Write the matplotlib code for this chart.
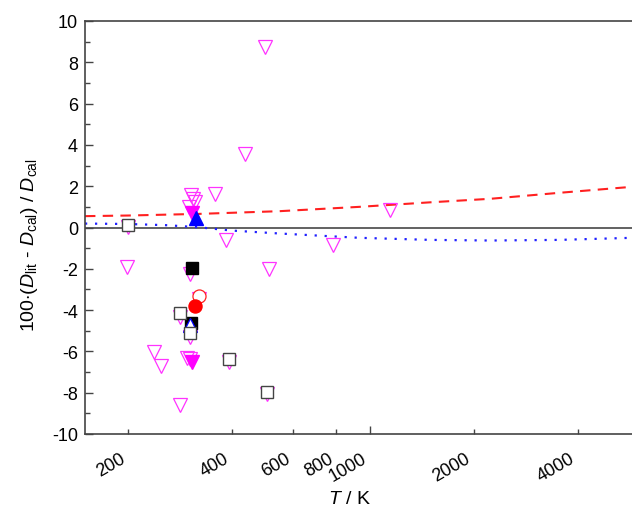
import matplotlib
matplotlib.use("Agg")
import matplotlib.pyplot as plt
from matplotlib.ticker import FixedLocator, FixedFormatter

plt.rcParams['font.family'] = ['Liberation Sans', 'DejaVu Sans']
plt.rcParams['mathtext.fontset'] = 'custom'
plt.rcParams['mathtext.rm'] = 'Liberation Sans'
plt.rcParams['mathtext.it'] = 'Liberation Sans:italic'
plt.rcParams['axes.unicode_minus'] = False

# correlation curves
red_T = [150, 200, 322, 548, 934, 1500, 2237, 3542, 5750]
red_dev = [0.55, 0.58, 0.66, 0.79, 1.0, 1.22, 1.39, 1.68, 1.97]
blue_T = [150, 200, 260, 320, 400, 548, 934, 1500, 2237, 3542, 5750]
blue_dev = [0.19, 0.17, 0.11, 0.01, -0.15, -0.29, -0.5, -0.6, -0.63, -0.6, -0.5]

# open magenta down triangles
tri_T = [497, 435, 356, 305, 309, 312, 300, 385, 303, 510, 198, 200, 282,
         303, 391, 504, 320, 237, 249, 282, 297, 302, 782, 1144]
tri_dev = [8.72, 3.54, 1.6, 1.55, 1.4, 1.25, 0.97, -0.6, -2.25, -2.0, -1.9, 0.02,
           -4.35, -5.3, -6.5, -8.05, -3.45, -6.04, -6.72, -8.6, -6.31, -6.39,
           -0.87, 0.87]
# filled magenta down triangles
ftri_T = [307, 307]
ftri_dev = [0.71, -6.52]
# filled / open blue up triangles
fup_T = [315]
fup_dev = [0.45]
oup_T = [303]
oup_dev = [-4.7]
# black filled squares
fsq_T = [307, 305]
fsq_dev = [-1.95, -4.62]
# open squares
osq_T = [200, 282, 303, 391, 504]
osq_dev = [0.13, -4.13, -5.13, -6.39, -7.96]
# red circles
fcir_T = [313]
fcir_dev = [-3.81]
ocir_T = [320]
ocir_dev = [-3.33]

fig = plt.figure(figsize=(6.32, 5.10), dpi=100)
ax = fig.add_axes([85/632, 1-435/510, 547/632, 413/510])
ax.set_xscale('log')

ax.axhline(0, color='#555555', lw=1.3, zorder=1)
ax.plot(red_T, red_dev, color='#ff2020', lw=1.5, dashes=(5, 3.5), zorder=2)
ax.plot(blue_T, blue_dev, color='#2020ff', lw=1.6, dashes=(1, 3.5), zorder=2)

ax.plot(tri_T, tri_dev, 'v', ms=10.5, mfc='none', mec='#ff33ff', mew=0.9, ls='none', zorder=3)
ax.plot(ftri_T, ftri_dev, 'v', ms=10.5, mfc='#ff00ff', mec='#ff00ff', ls='none', zorder=4)
ax.plot(fup_T, fup_dev, '^', ms=10.5, mfc='#0000ff', mec='#0000ff', ls='none', zorder=5)
ax.plot(fsq_T, fsq_dev, 's', ms=8.6, mfc='black', mec='black', ls='none', zorder=5)
ax.plot(oup_T, oup_dev, '^', ms=10.5, mfc='white', mec='#0000ff', mew=0.9, ls='none', zorder=6)
ax.plot(osq_T, osq_dev, 's', ms=8.6, mfc='white', mec='#444444', mew=1.0, ls='none', zorder=6)
ax.plot(ocir_T, ocir_dev, 'o', ms=9.4, mfc='white', mec='#ff2020', mew=0.9, ls='none', zorder=6)
ax.plot(fcir_T, fcir_dev, 'o', ms=9.4, mfc='#ff0000', mec='#ff0000', ls='none', zorder=7)

ax.set_xlim(150, 5750)
ax.set_ylim(-10, 10)

ax.xaxis.set_major_locator(FixedLocator([1000]))
ax.xaxis.set_major_formatter(FixedFormatter(['1000']))
ax.xaxis.set_minor_locator(FixedLocator([200, 400, 600, 800, 2000, 4000]))
ax.xaxis.set_minor_formatter(FixedFormatter(['200', '400', '600', '800', '2000', '4000']))
ax.set_yticks(range(-10, 11, 2))
ax.set_yticks(range(-9, 10, 2), minor=True)

ax.tick_params(axis='both', which='both', direction='in', color='#444444', labelsize=13)
ax.tick_params(axis='both', which='major', length=6, width=1.0)
ax.tick_params(axis='both', which='minor', length=3.5, width=1.0)
ax.tick_params(axis='x', which='both', pad=11)
ax.tick_params(axis='y', which='both', pad=5)
for lab in ax.get_xticklabels(which='both'):
    lab.set_rotation(30)
    lab.set_ha('right')

for s in ['left', 'bottom', 'top']:
    ax.spines[s].set_color('#444444')
    ax.spines[s].set_linewidth(1.2)
ax.spines['right'].set_visible(False)

ax.set_xlabel(r'$T$ / K', fontsize=14)
ax.set_ylabel(r'100$\cdot$($D_{\rm lit}$ - $D_{\rm cal}$) / $D_{\rm cal}$', fontsize=14)
ax.xaxis.set_label_coords(0.483, -0.135)
ax.yaxis.set_label_coords(-0.082, 0.46)

fig.savefig('out.png', dpi=100)
